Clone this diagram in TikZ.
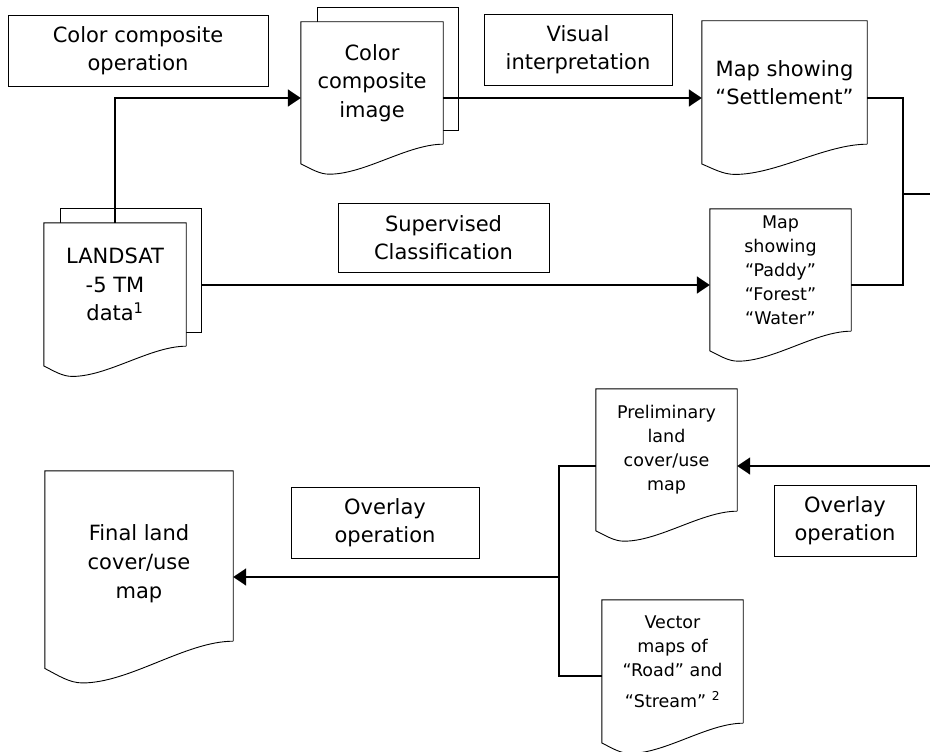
\documentclass[tikz,border=0pt]{standalone}
\usepackage{fontspec}
\setmainfont{DejaVu Sans}
\usetikzlibrary{calc,arrows.meta,backgrounds}

\newcommand{\bigtext}{\fontsize{21}{28.5}\selectfont}
\newcommand{\smalltext}{\fontsize{17.5}{24}\selectfont}

% page outline with a wavy foot, drawn round a node
\newcommand{\docpage}[2][]{%
  \draw[pageline,#1] let \p1=(#2.north west), \p2=(#2.south east),
      \n1={\x2-\x1}, \n2={\y1-\y2} in
    (\p2) -- (\x2,\y1) -- (\p1) -- (\x1,\y2-0.16*\n2)
    .. controls (\x1+0.07*\n1,\y2-0.2*\n2) and (\x1+0.13*\n1,\y2-0.245*\n2) .. (\x1+0.2*\n1,\y2-0.245*\n2)
    .. controls (\x1+0.45*\n1,\y2-0.245*\n2) and (\x1+0.75*\n1,\y2) .. (\p2);}

\tikzset{
  opbox/.style={draw, line width=0.9pt, align=center, inner sep=0pt, font=\bigtext},
  page/.style={align=center, inner sep=0pt, font=\bigtext},
  pageline/.style={line width=0.9pt, fill=white},
  flow/.style={line width=1.8pt, -{Triangle[length=13pt,width=17pt]}},
  link/.style={line width=1.3pt}
}

\begin{document}
\begin{tikzpicture}[x=1pt,y=-1pt]
  \useasboundingbox (0,0) rectangle (930,752);

  % ROWS OF THE CONNECTORS
  \coordinate (row1) at (0,98);
  \coordinate (row2) at (0,285);
  \coordinate (row3) at (0,466);
  \coordinate (row4) at (0,577);
  \coordinate (vecrow) at (0,676);
  \coordinate (joinR) at (903,194);
  \coordinate (joinL) at (559,577);
  \coordinate (edgeA) at (930,194);
  \coordinate (edgeB) at (930,466);

  % OPERATIONS
  \node[opbox, minimum width=260pt, minimum height=71pt] (cco) at (138,50.5) {Color composite\\operation};
  \node[opbox, minimum width=188pt, minimum height=71pt] (visint) at (578,49.5) {Visual\\interpretation};
  \node[opbox, minimum width=211pt, minimum height=69pt] (supcls) at (443.5,237.5) {Supervised\\Classification};
  \node[opbox, minimum width=188pt, minimum height=71pt] (ovlL) at (385,522.5) {Overlay\\operation};
  \node[opbox, minimum width=142pt, minimum height=71pt] (ovlR) at (845,520.5) {Overlay\\operation};

  % PAGES
  \node[page, minimum width=142pt, minimum height=122pt] (ccimg) at (372,83) {Color\\composite\\image};
  \node[minimum width=141pt, minimum height=122pt] (ccimgb) at (388,69) {};
  \node[page, minimum width=142pt, minimum height=123pt] (landsat) at (115,284.5) {LANDSAT\\-5 TM\\data\textsuperscript{1}};
  \node[minimum width=141pt, minimum height=123pt] (landsatb) at (131,270.5) {};
  \node[page, minimum width=165pt, minimum height=123pt] (settle) at (784.5,82.5) {Map showing\\“Settlement”};
  \node[page, font=\smalltext, minimum width=141pt, minimum height=122pt] (paddy) at (780.5,270) {Map\\showing\\“Paddy”\\“Forest”\\“Water”};
  \node[page, minimum width=188pt, minimum height=170pt] (final) at (139,556) {\rule{0pt}{31pt}Final land\\[0.5pt]cover/use\\[0.5pt]map};
  \node[page, font=\smalltext, minimum width=141pt, minimum height=122pt] (prelim) at (666.5,450) {Preliminary\\land\\cover/use\\map};
  \node[page, font=\smalltext, minimum width=141pt, minimum height=123pt] (vector) at (672.5,661.5) {Vector\\maps of\\“Road” and\\[7pt]“Stream” \textsuperscript{2}};

  \begin{scope}[on background layer]
    \draw[pageline] (ccimgb.north west) rectangle (ccimgb.south east);
    \docpage{ccimg}
    \draw[pageline] (landsatb.north west) rectangle (landsatb.south east);
    \docpage{landsat}
    \docpage{settle}
    \docpage{paddy}
    \docpage{final}
    \docpage{prelim}
    \docpage{vector}
  \end{scope}

  % CONNECTORS
  \draw[flow] (landsat.north) |- (ccimg.west |- row1);
  \draw[flow] (ccimg.east |- row1) -- (settle.west |- row1);
  \draw[flow] (landsatb.east |- row2) -- (paddy.west |- row2);
  \draw[link] (settle.east |- row1) -| (joinR);
  \draw[link] (paddy.east |- row2) -| (joinR);
  \draw[link] (joinR) -- (edgeA);
  \draw[flow] (edgeB) -- (prelim.east |- row3);
  \draw[link] (prelim.west |- row3) -| (joinL);
  \draw[link] (vector.west |- vecrow) -| (joinL);
  \draw[flow] (joinL) -- (final.east |- row4);
\end{tikzpicture}
\end{document}
